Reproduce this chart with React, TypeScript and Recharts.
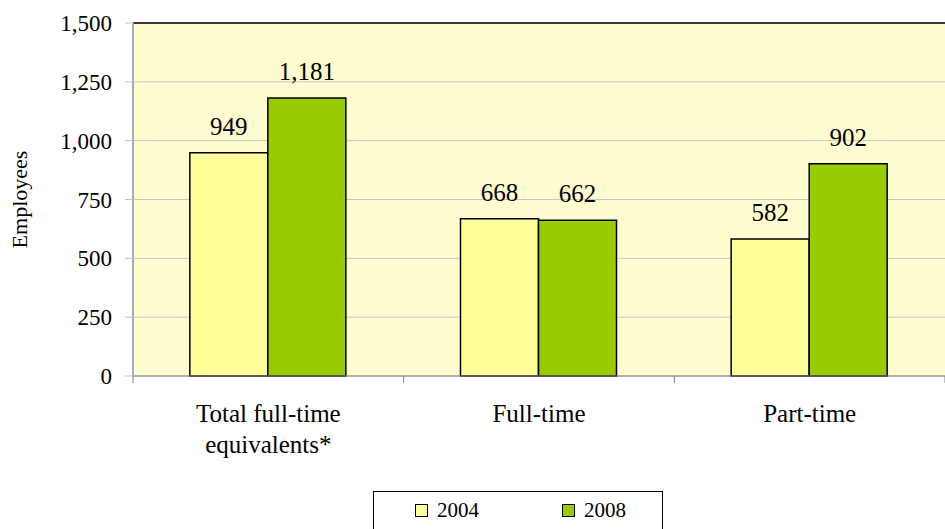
import { BarChart, Bar, XAxis, YAxis, CartesianGrid, Legend, LabelList, ReferenceLine } from 'recharts'

const categories = ['Total full-time equivalents*', 'Full-time', 'Part-time']
const values2004 = [949, 668, 582]
const values2008 = [1181, 662, 902]
const yTicks = [0, 250, 500, 750, 1000, 1250, 1500]
const seriesNames = ['2004', '2008']
const seriesColors = ['#FFFF99', '#99CC00']

const data = categories.map((name, i) => ({ name, y2004: values2004[i], y2008: values2008[i] }))

const FONT = '"Liberation Serif", "Times New Roman", serif'
const fmt = (v: number) => v.toLocaleString('en-US')

// greedy word wrap by character count
function wrap(label: string, maxChars = 16) {
  const lines: string[] = []
  let cur = ''
  for (const w of label.split(' ')) {
    const next = cur ? cur + ' ' + w : w
    if (next.length > maxChars && cur) {
      lines.push(cur)
      cur = w
    } else cur = next
  }
  if (cur) lines.push(cur)
  return lines
}

// category label + tick marks on the band edges (Excel style)
const CategoryTick = (props: any) => {
  const { x, y, payload, index, visibleTicksCount } = props
  const half = payload?.offset ?? 0
  const axisY = y - 8
  return (
    <g>
      {half > 0 && <line x1={x - half} x2={x - half} y1={axisY} y2={axisY + 7} stroke="#808080" />}
      {half > 0 && index === visibleTicksCount - 1 && (
        <line x1={x + half} x2={x + half} y1={axisY} y2={axisY + 7} stroke="#808080" />
      )}
      <text x={x} y={y + 38} textAnchor="middle" fontSize={25} fontFamily={FONT} fill="#000">
        {wrap(payload.value).map((line, i) => (
          <tspan key={i} x={x} dy={i === 0 ? 0 : 31}>{line}</tspan>
        ))}
      </text>
    </g>
  )
}

const LegendBox = () => (
  <div style={{ marginLeft: 373, width: 290, height: 38, boxSizing: 'border-box', border: '1px solid #000', borderBottom: 'none',
    position: 'relative', fontFamily: FONT, fontSize: 21, color: '#000', background: '#fff' }}>
    {seriesNames.map((label, i) => (
      <span key={label} style={{ position: 'absolute', left: i === 0 ? 41 : 188, top: 7, display: 'flex', alignItems: 'center', lineHeight: '22px' }}>
        <span style={{ width: 11, height: 11, background: seriesColors[i], border: '1px solid #000', marginRight: 9, display: 'inline-block' }} />
        {label}
      </span>
    ))}
  </div>
)

export default function App() {
  return (
    <div style={{ position: 'absolute', left: 0, top: 0, width: 945, height: 529, background: '#fff' }}>
      <BarChart width={945} height={529} data={data} margin={{ top: 23, right: 0, left: 0, bottom: 0 }}
        barCategoryGap="21%" barGap={0}>
        <CartesianGrid vertical={false} stroke="#c8c8c8" fill="#FEFDD0" fillOpacity={1} />
        <XAxis dataKey="name" height={115} axisLine={{ stroke: '#808080' }} tickLine={false}
          tick={<CategoryTick />} interval={0} />
        <YAxis width={133} domain={[0, 1500]} ticks={yTicks} tickFormatter={fmt} axisLine={{ stroke: '#a8a8c8', strokeWidth: 2 }}
          tickLine={{ stroke: '#c0c0dc' }} tickSize={8} tickMargin={13} tick={{ fontSize: 23, fontFamily: FONT, fill: '#000' }}
          label={{ value: 'Employees', angle: -90, position: 'insideLeft', offset: 19, style: { fontSize: 22, fontFamily: FONT, fill: '#000', textAnchor: 'middle' } }} />
        <ReferenceLine y={1500} stroke="#000" strokeWidth={1.5} />
        <Bar dataKey="y2004" fill={seriesColors[0]} stroke="#000" strokeWidth={1.5} isAnimationActive={false}>
          <LabelList dataKey="y2004" position="top" offset={18} formatter={(v: any) => fmt(Number(v))}
            style={{ fontSize: 25, fontFamily: FONT, fill: '#000' }} />
        </Bar>
        <Bar dataKey="y2008" fill={seriesColors[1]} stroke="#000" strokeWidth={1.5} isAnimationActive={false}>
          <LabelList dataKey="y2008" position="top" offset={18} formatter={(v: any) => fmt(Number(v))}
            style={{ fontSize: 25, fontFamily: FONT, fill: '#000' }} />
        </Bar>
        <Legend verticalAlign="bottom" height={38} content={<LegendBox />} />
      </BarChart>
    </div>
  )
}
